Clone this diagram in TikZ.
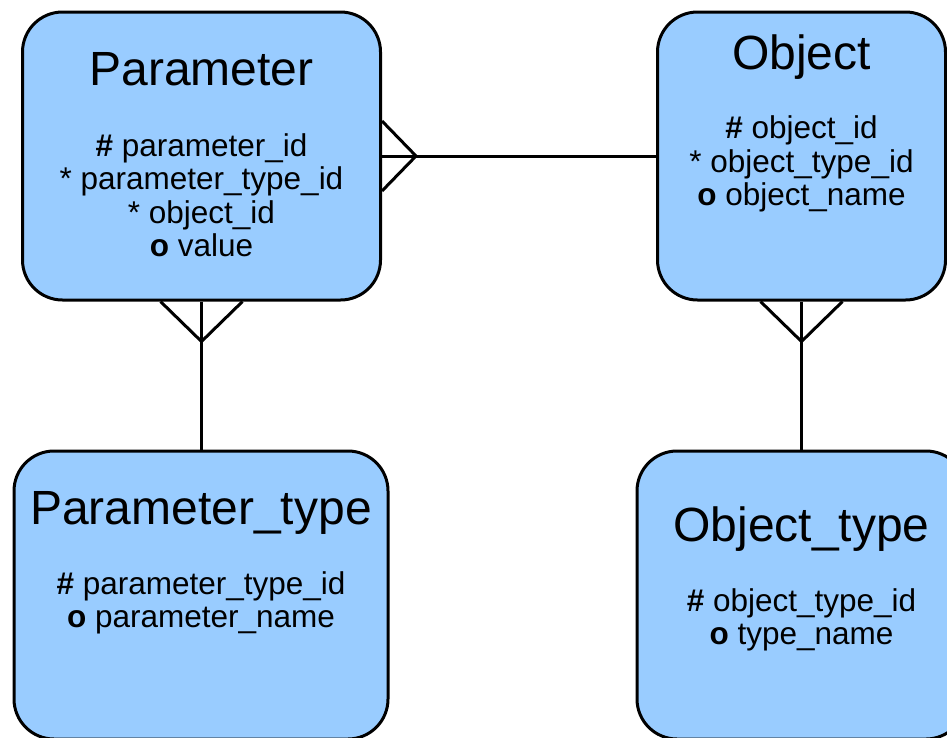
\documentclass[tikz,border=0pt]{standalone}
\usepackage{fontspec}
\setmainfont{Liberation Sans}
\usetikzlibrary{positioning}
\definecolor{entityblue}{RGB}{153,204,255}

\begin{document}
\begin{tikzpicture}[x=1pt,y=-1pt,
    entity/.style={draw=black,line width=3pt,fill=entityblue,rounded corners=40pt,inner sep=0pt},
    title/.style={font=\fontsize{48}{50}\selectfont,anchor=base,inner sep=0pt},
    attrs/.style={font=\fontsize{31.5}{33.5}\selectfont,align=center,anchor=base,inner sep=0pt},
    rel/.style={line width=3pt}]
   \useasboundingbox (0,0) rectangle (947,737) ;
   % entities
   \node[entity,minimum width=358pt,minimum height=288pt] (param) at (201.5,156) {} ;
   \node[entity,minimum width=288pt,minimum height=288pt] (obj) at (801.5,156) {} ;
   \node[entity,minimum width=374pt,minimum height=288pt] (ptype) at (201,595) {} ;
   \node[entity,minimum width=329pt,minimum height=288pt] (otype) at (801.5,595) {} ;
   % titles and attributes (base = last line)
   \node[title] (paramtitle) at ([yshift=-75pt]param.north) {Parameter} ;
   \node[attrs] (paramattrs) at ([yshift=-246pt]param.north)
        {\textbf{\#} parameter\_id\\ * parameter\_type\_id\\ * object\_id\\ \textbf{o} value} ;
   \node[title] (objtitle) at ([yshift=-59pt]obj.north) {Object} ;
   \node[attrs] (objattrs) at ([yshift=-195pt]obj.north)
        {\textbf{\#} object\_id\\ * object\_type\_id\\ \textbf{o} object\_name} ;
   \node[title] (ptypetitle) at ([yshift=-75pt]ptype.north) {Parameter\_type} ;
   \node[attrs] (ptypeattrs) at ([yshift=-178pt]ptype.north)
        {\textbf{\#} parameter\_type\_id\\ \textbf{o} parameter\_name} ;
   \node[title] (otypetitle) at ([yshift=-92pt]otype.north) {Object\_type} ;
   \node[attrs] (otypeattrs) at ([yshift=-195pt]otype.north)
        {\textbf{\#} object\_type\_id\\ \textbf{o} type\_name} ;
   % relationships (crow's foot on the many side)
   \draw[rel] (param.east) -- (obj.west) ;
   \draw[rel] ([yshift=35pt]param.east) -- ([xshift=34pt]param.east) -- ([yshift=-35pt]param.east) ;
   \draw[rel] (param.south) -- (param.south |- ptype.north) ;
   \draw[rel] ([xshift=-41pt]param.south) -- ([yshift=-40pt]param.south) -- ([xshift=41pt]param.south) ;
   \draw[rel] (obj.south) -- (obj.south |- otype.north) ;
   \draw[rel] ([xshift=-41pt]obj.south) -- ([yshift=-40pt]obj.south) -- ([xshift=41pt]obj.south) ;
\end{tikzpicture}
\end{document}
